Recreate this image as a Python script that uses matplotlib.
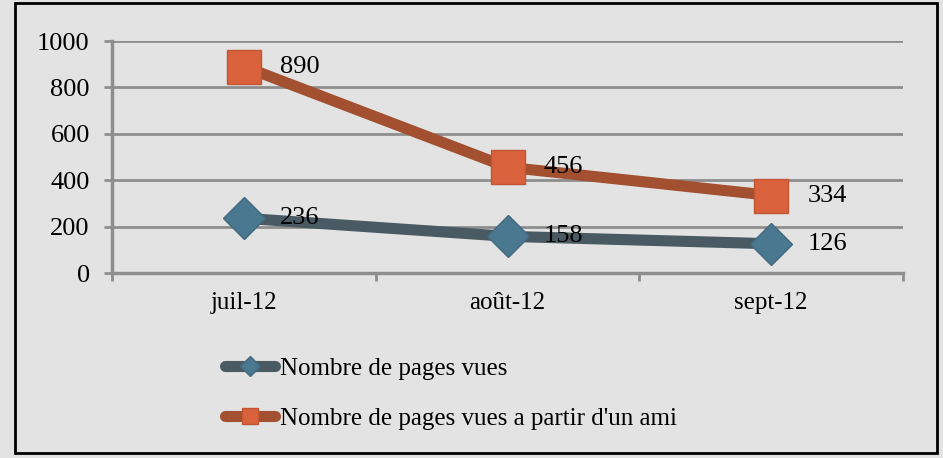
import matplotlib
matplotlib.use("Agg")
import matplotlib.pyplot as plt
from matplotlib.patches import Rectangle

# Data
months = ["juil-12", "août-12", "sept-12"]
pages_vues = [236, 158, 126]
pages_ami = [890, 456, 334]
labels = ["Nombre de pages vues", "Nombre de pages vues a partir d'un ami"]

plt.rcParams['font.family'] = ['Liberation Serif', 'DejaVu Serif']

bg = '#e3e3e3'
grid_c = '#8e8e8e'
fs = 18

fig = plt.figure(figsize=(9.43, 4.58), dpi=100, facecolor=bg)
ax = fig.add_axes([112 / 943, 1 - 273 / 458, 791 / 943, 232 / 458])
ax.set_facecolor(bg)

x = list(range(len(months)))
ax.plot(x, pages_vues, color='#4a5a62', lw=8, marker='D', markersize=21,
        markerfacecolor='#4a7891', markeredgecolor='#42697e', markeredgewidth=1,
        label=labels[0], zorder=3, solid_capstyle='round')
ax.plot(x, pages_ami, color='#a2502f', lw=8, marker='s', markersize=24,
        markerfacecolor='#d9623c', markeredgecolor='#c25633', markeredgewidth=1,
        label=labels[1], zorder=3, solid_capstyle='round')

for xi, v in zip(x, pages_vues):
    ax.annotate(str(v), (xi, v), xytext=(26, 0), textcoords='offset points',
                va='center', ha='left', fontsize=fs + 1, zorder=4)
for xi, v in zip(x, pages_ami):
    ax.annotate(str(v), (xi, v), xytext=(26, 0), textcoords='offset points',
                va='center', ha='left', fontsize=fs + 1, zorder=4)

ax.set_xlim(-0.5, 2.5)
ax.set_ylim(0, 1000)
ax.set_yticks(range(0, 1001, 200))
ax.set_xticks(x)
ax.set_xticklabels(months)
ax.set_xticks([-0.5, 0.5, 1.5, 2.5], minor=True)
ax.tick_params(axis='x', which='major', length=0, pad=14, labelsize=fs)
ax.tick_params(axis='x', which='minor', length=6, width=2, color=grid_c, direction='out')
ax.tick_params(axis='y', length=6, width=2, color=grid_c, pad=10, labelsize=fs + 1)

ax.yaxis.grid(True, color=grid_c, lw=2)
ax.set_axisbelow(True)
for s in ['top', 'right']:
    ax.spines[s].set_visible(False)
for s in ['left', 'bottom']:
    ax.spines[s].set_color(grid_c)
    ax.spines[s].set_linewidth(2.5)

fig.legend(loc='upper left', bbox_to_anchor=(212 / 943, 1 - 345 / 458),
           frameon=False, fontsize=fs, markerscale=0.5, handlelength=2.0,
           handletextpad=0.2, labelspacing=1.1, borderpad=0)

fig.patches.append(Rectangle((15 / 943, 5 / 458), 922 / 943, 450 / 458,
                             transform=fig.transFigure, fill=False,
                             edgecolor='black', lw=2))

fig.savefig("out.png", dpi=100, facecolor=bg)
